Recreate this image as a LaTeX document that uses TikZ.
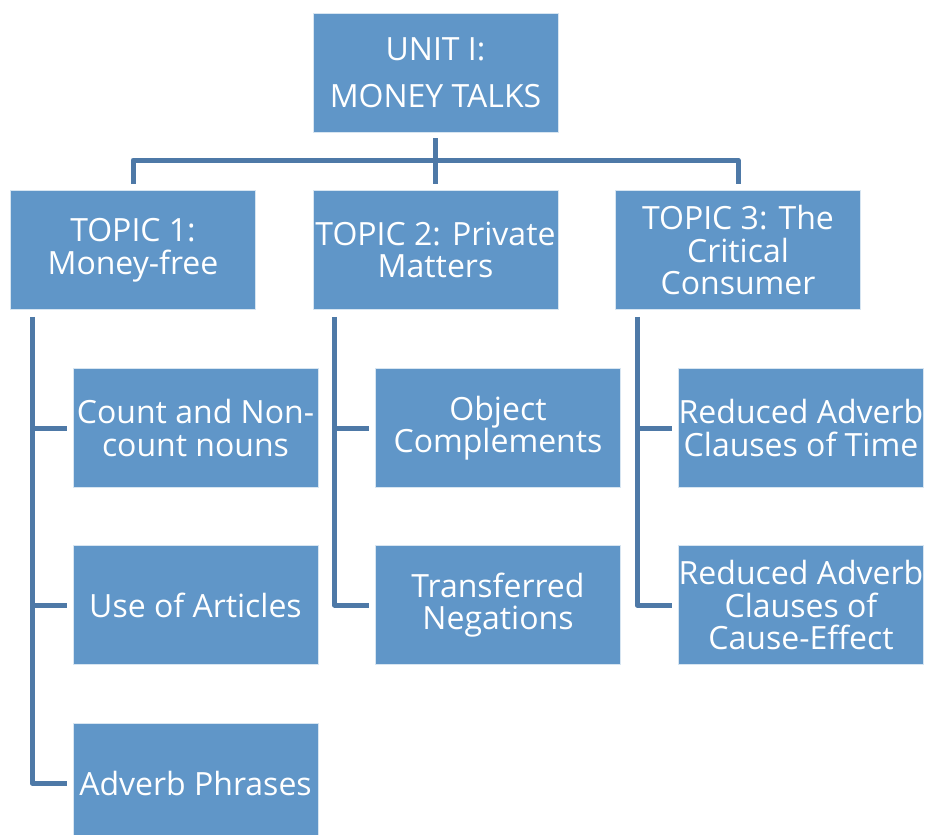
\documentclass[tikz,border=0pt]{standalone}
\usepackage{fontspec}
\setmainfont{Open Sans}
\begin{document}
\begin{tikzpicture}[x=1pt,y=-1pt,
  box/.style={draw=white!75!boxfill, line width=0.8pt, fill=boxfill, text=white,
    minimum width=245pt, minimum height=119pt, inner sep=0pt, align=center,
    font=\fontsize{32}{32.5}\selectfont},
  conn/.style={draw=linec, line width=5pt, line join=round, line cap=butt}]
\definecolor{boxfill}{RGB}{96,150,200}
\definecolor{linec}{RGB}{78,121,167}
\useasboundingbox (0,0) rectangle (927,835);
\node[box, font=\fontsize{32}{47}\selectfont] (root) at (435.5,72.5) {UNIT I:\\MONEY TALKS};
\node[box] (t1) at (133,250) {TOPIC 1:\\Money-free};
\node[box] (t2) at (435.5,250) {TOPIC 2: Private\\Matters};
\node[box] (t3) at (738,250) {TOPIC 3: The\\Critical\\Consumer};
\node[box] (a1) at (195.5,428) {Count and Non-\\count nouns};
\node[box] (a2) at (195.5,605) {Use of Articles};
\node[box] (a3) at (195.5,783) {Adverb Phrases};
\node[box] (b1) at (498,428) {Object\\Complements};
\node[box] (b2) at (498,605) {Transferred\\Negations};
\node[box] (c1) at (801,428) {Reduced Adverb\\Clauses of Time};
\node[box] (c2) at (801,605) {Reduced Adverb\\Clauses of\\Cause-Effect};
% top connectors
\draw[conn] ([yshift=-6pt]root.south) -- ([yshift=6pt]t2.north);
\draw[conn] ([yshift=6pt]t1.north) -- ++(0,-24) -| ([yshift=6pt]t3.north);
% column connectors
\coordinate (v1) at ([xshift=22pt,yshift=-7pt]t1.south west);
\coordinate (v2) at ([xshift=22pt,yshift=-7pt]t2.south west);
\coordinate (v3) at ([xshift=22pt,yshift=-7pt]t3.south west);
\draw[conn] (v1) |- ([xshift=-6pt]a3.west);
\draw[conn] ([xshift=-6pt]a1.west) -- (v1 |- a1.west);
\draw[conn] ([xshift=-6pt]a2.west) -- (v1 |- a2.west);
\draw[conn] (v2) |- ([xshift=-6pt]b2.west);
\draw[conn] ([xshift=-6pt]b1.west) -- (v2 |- b1.west);
\draw[conn] (v3) |- ([xshift=-6pt]c2.west);
\draw[conn] ([xshift=-6pt]c1.west) -- (v3 |- c1.west);
\end{tikzpicture}
\end{document}
